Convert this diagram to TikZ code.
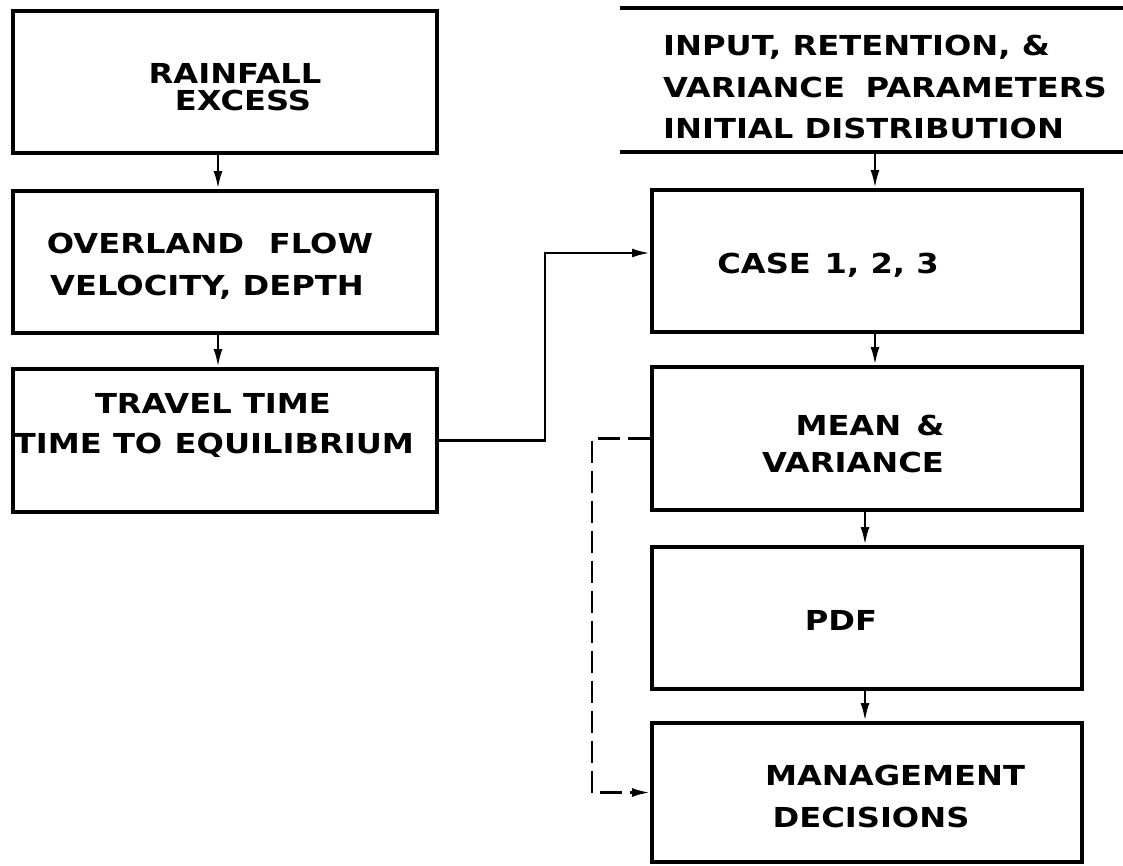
\documentclass[tikz,border=0pt]{standalone}
\usepackage{fontspec}
\newfontfamily\lettering{DejaVu Sans}[FakeStretch=1.17]
\usetikzlibrary{arrows.meta}
\begin{document}
\begin{tikzpicture}[x=1pt,y=-1pt,
  box/.style={draw=black,line width=4pt,rectangle,inner sep=0pt},
  txt/.style={anchor=base,inner sep=0pt,font=\lettering\bfseries\fontsize{27.5}{32}\selectfont},
  txtl/.style={txt,anchor=base west},
  conn/.style={draw=black,line width=2.6pt,-{Latex[length=18pt,width=9pt]}},
  dconn/.style={conn,dash pattern=on 22pt off 8pt}]
\useasboundingbox (0,0) rectangle (1123,865);
% left column boxes
\node[box,minimum width=424pt,minimum height=142pt] (rain) at (225,82) {};
\node[box,minimum width=424pt,minimum height=142pt] (over) at (225,262) {};
\node[box,minimum width=424pt,minimum height=143pt] (trav) at (225,440.5) {};
% right column boxes
\node[inner sep=0pt,minimum width=503pt,minimum height=144pt] (input) at (871.5,80) {};
\draw[line width=4pt] (input.north west) -- (input.north east);
\draw[line width=4pt] (input.south west) -- (input.south east);
\node[box,minimum width=430pt,minimum height=142pt] (case) at (867,261) {};
\node[box,minimum width=430pt,minimum height=143pt] (mean) at (867,438.5) {};
\node[box,minimum width=430pt,minimum height=142pt] (pdf) at (867,618) {};
\node[box,minimum width=430pt,minimum height=139pt] (mgmt) at (867,792.5) {};
% texts
\node[txt] (t1) at (235,83) {RAINFALL};
\node[txt] (t2) at (243,110) {EXCESS};
\node[txt] (t3) at (210,253) {OVERLAND\hspace{0.9em}FLOW};
\node[txt] (t4) at (207,295) {VELOCITY, DEPTH};
\node[txt] (t5) at (213,413) {TRAVEL TIME};
\node[txt] (t6) at (214,453) {TIME TO\hspace{0.45em}EQUILIBRIUM};
\node[txtl] (t7) at (663,55) {INPUT, RETENTION, \&};
\node[txtl] (t8) at (663,97) {VARIANCE\hspace{0.75em}PARAMETERS};
\node[txtl] (t9) at (663,138) {INITIAL DISTRIBUTION};
\node[txt] (t10) at (828,273) {CASE\hspace{0.5em}1, 2, 3};
\node[txt] (t11) at (870,435) {MEAN\hspace{0.55em}\&};
\node[txt] (t12) at (853,472) {VARIANCE};
\node[txt] (t13) at (841,630) {PDF};
\node[txt] (t14) at (895,785) {MANAGEMENT};
\node[txt] (t15) at (871,827) {DECISIONS};
% connectors
\draw[conn] ([xshift=-7pt]rain.south) -- ([xshift=-7pt]over.north);
\draw[conn] ([xshift=-7pt]over.south) -- ([xshift=-7pt]trav.north);
\draw[conn] ([xshift=8pt]input.south -| case.north) -- ([xshift=8pt]case.north);
\draw[conn] ([xshift=8pt]case.south) -- ([xshift=8pt]mean.north);
\draw[conn] ([xshift=-2pt]mean.south) -- ([xshift=-2pt]pdf.north);
\draw[conn] ([xshift=-2pt]pdf.south) -- ([xshift=-2pt]mgmt.north);
\coordinate (j1) at (545,253);
\draw[conn] (trav.east) -| (j1) -- ([yshift=8pt]case.west);
\coordinate (j2) at (592,438.5);
\draw[dconn] (mean.west) -- (j2) |- (mgmt.west);
\end{tikzpicture}
\end{document}
